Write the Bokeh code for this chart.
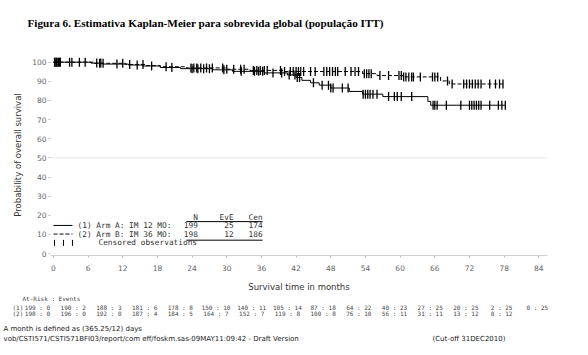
import numpy as np
from bokeh.plotting import figure
from bokeh.layouts import column
from bokeh.models import Label, Span, FixedTicker, Range1d
from bokeh.core.properties import value
from bokeh.embed import file_html
from bokeh.resources import INLINE

# ---------------- data ----------------
title_text = "Figura 6. Estimativa Kaplan-Meier para sobrevida global (população ITT)"
x_label = "Survival time in months"
y_label = "Probability of overall survival"
x_ticks = [0, 6, 12, 18, 24, 30, 36, 42, 48, 54, 60, 66, 72, 78, 84]
y_ticks = [0, 10, 20, 30, 40, 50, 60, 70, 80, 90, 100]

# Arm A (solid): step times and survival (%)
time_a = [0, 6.5, 8.5, 13.0, 15.5, 18.5, 22.0, 27.5, 31.0, 36.5, 40.5, 42.0, 43.0,
          44.5, 46.0, 48.0, 51.2, 53.5, 57.0, 64.8, 65.3]
surv_a = [100, 99.5, 99.0, 98.5, 98.0, 97.2, 96.6, 96.0, 95.2, 94.4, 93.3, 92.0, 90.5,
          89.2, 88.0, 86.5, 84.7, 83.3, 82.0, 79.5, 77.5]
cens_a = [0.2, 0.5, 0.8, 1.1, 2.8, 4.5, 7.5, 8.2, 11.0, 14.5, 17.0, 20.5, 24.0, 25.0,
          26.0, 27.0, 29.5, 32.5, 34.8, 35.5, 36.2, 38.0, 39.5, 40.8, 41.8, 42.2, 42.6,
          45.0, 46.5, 47.6, 48.0, 48.4, 50.0, 51.0, 53.6, 54.0, 54.4, 54.8, 55.3, 56.0,
          58.0, 59.0, 59.5, 60.2, 62.0, 65.7, 66.0, 66.4, 68.0, 70.5, 72.0, 72.4, 72.8,
          73.2, 73.6, 74.0, 75.5, 77.0, 77.6, 78.2]

# Arm B (dashed)
time_b = [0, 7.0, 12.5, 16.0, 18.5, 23.0, 30.0, 34.0, 40.0, 53.5, 56.0, 60.5, 67.0, 68.5]
surv_b = [100, 99.4, 98.8, 98.2, 97.6, 97.0, 96.3, 95.7, 95.1, 94.0, 93.0, 92.3, 90.2, 88.6]
cens_b = [0.3, 0.6, 0.9, 1.2, 3.2, 5.5, 8.0, 8.6, 12.0, 13.2, 15.5, 19.5, 23.8, 24.3,
          24.8, 25.5, 26.5, 27.5, 29.3, 30.0, 31.2, 32.4, 33.0, 34.6, 35.2, 35.8, 36.5,
          37.0, 39.3, 40.0, 41.0, 41.5, 42.0, 42.4, 42.8, 43.3, 44.5, 45.3, 46.8, 47.3,
          47.8, 48.3, 48.8, 49.2, 50.5, 51.5, 52.2, 52.8, 53.8, 54.2, 54.6, 55.0, 56.5,
          58.0, 59.8, 60.2, 60.6, 61.0, 61.5, 62.0, 62.3, 63.5, 65.6, 66.0, 66.5, 68.2,
          69.0, 71.0, 71.5, 72.0, 72.5, 73.0, 73.5, 74.0, 75.5, 76.5, 77.2, 77.8]

arm_names = ["(1) Arm A: IM 12 MO:", "(2) Arm B: IM 36 MO:"]
arm_n = [199, 198]
arm_events = [25, 12]
arm_cens = [174, 186]
legend_header = ["N", "EvE", "Cen"]
censor_text = "Censored observations"

risk_header = "At-Risk : Events"
risk_rows = ["(1)", "(2)"]
risk_a = [199, 190, 188, 181, 178, 150, 140, 105, 87, 64, 40, 27, 20, 2, 0]
events_a = [0, 2, 3, 6, 8, 10, 11, 14, 18, 22, 23, 25, 25, 25, 25]
risk_b = [198, 196, 192, 187, 184, 164, 152, 119, 100, 76, 56, 31, 13, 0]
events_b = [0, 0, 0, 4, 5, 7, 7, 8, 8, 10, 11, 11, 12, 12]

foot1 = "A month is defined as (365.25/12) days"
foot2 = "vob/CSTI571/CSTI571BFI03/report/com  eff/foskm.sas-09MAY11:09:42 - Draft Version"
foot3 = "(Cut-off 31DEC2010)"

W = 588

def no_align(fig):
    if "frame_align" in fig.properties():
        fig.frame_align = False

# ---------------- title strip ----------------
pt = figure(width=W, height=40, x_range=Range1d(0, W), y_range=Range1d(40, 0),
            output_backend="svg", toolbar_location=None, min_border=0,
            x_axis_type=None, y_axis_type=None)
pt.grid.visible = False
pt.outline_line_color = None
no_align(pt)
pt.text(x=[27], y=[22], text=[title_text], text_font=value("Liberation Serif"),
        text_font_style="bold", text_font_size="11.2px", text_color="black",
        text_baseline="middle", text_align="left")

# ---------------- main plot ----------------
p = figure(width=W, height=255, x_range=Range1d(-0.5, 85.5), y_range=Range1d(-1, 104),
           output_backend="svg", toolbar_location=None,
           min_border_left=50, min_border_right=41, min_border_top=14, min_border_bottom=40)
p.grid.visible = False
p.outline_line_color = None
no_align(p)

for ax in (p.xaxis[0], p.yaxis[0]):
    ax.major_label_text_font = "DejaVu Sans"
    ax.major_label_text_font_size = "7.5px"
    ax.major_label_text_color = "#666666"
    ax.major_tick_line_color = "#bbbbbb"
    ax.major_tick_out = 2
    ax.major_tick_in = 0
    ax.minor_tick_line_color = None
    ax.axis_label_text_font = "DejaVu Sans"
    ax.axis_label_text_font_style = "normal"
    ax.axis_label_text_font_size = "8.5px"
    ax.axis_label_text_color = "#333333"

p.xaxis.ticker = FixedTicker(ticks=x_ticks)
p.xaxis.axis_label = x_label
p.xaxis.axis_line_color = "#d0d0d0"
p.xaxis.major_label_standoff = 7
p.xaxis.axis_label_standoff = 8

p.yaxis.ticker = FixedTicker(ticks=y_ticks)
p.yaxis.axis_label = y_label
p.yaxis.axis_line_color = None
p.yaxis.major_label_standoff = 2
p.yaxis.axis_label_standoff = 6

p.add_layout(Span(location=50, dimension="width", line_color="#e6e6e6", line_width=1))

def km_draw(times, surv, cens, dash):
    xs = list(times) + [max(cens)]
    ys = list(surv) + [surv[-1]]
    p.step(xs, ys, mode="after", line_color="black", line_width=1, line_dash=dash)
    idx = np.searchsorted(np.array(times), np.array(cens), side="right") - 1
    cy = np.array(surv)[idx]
    p.scatter(cens, cy, marker="dash", size=9, angle=np.pi / 2,
              line_color="black", line_width=1.3)

km_draw(time_a, surv_a, cens_a, "solid")
km_draw(time_b, surv_b, cens_b, "4 2")

mono = "DejaVu Sans Mono"
def lab(x, y, text, size="7.8px", align="left"):
    p.add_layout(Label(x=x, y=y, text=text, text_font=mono, text_font_size=size,
                       text_align=align, text_baseline="middle", text_color="#333333"))

col_x = [25.0, 31.2, 36.2]
row_y = [14.7, 10.2]
for cx, h in zip(col_x, legend_header):
    lab(cx, 18.6, h, align="right")
for i in range(2):
    lab(4.17, row_y[i], arm_names[i])
    for cx, v in zip(col_x, [arm_n[i], arm_events[i], arm_cens[i]]):
        lab(cx, row_y[i], str(v), align="right")
p.line([0.02, 3.3], [row_y[0], row_y[0]], line_color="black", line_width=1)
p.line([0.02, 3.3], [row_y[1], row_y[1]], line_color="black", line_width=1, line_dash="4 2")
p.segment(x0=[23.0, 23.0], y0=[16.7, 7.0], x1=[36.2, 36.2], y1=[16.7, 7.0],
          line_color="black", line_width=1)
p.scatter([0.19, 1.75, 3.3], [5.6, 5.6, 5.6], marker="dash", size=6, angle=np.pi / 2,
          line_color="black", line_width=1)
lab(7.8, 5.6, censor_text)

# ---------------- at-risk table & footnotes ----------------
pb = figure(width=W, height=60, x_range=Range1d(0, W), y_range=Range1d(60, 0),
            output_backend="svg", toolbar_location=None, min_border=0,
            x_axis_type=None, y_axis_type=None)
pb.grid.visible = False
pb.outline_line_color = None
no_align(pb)

rx = [37 + 35.7 * i for i in range(15)]
fs = "6px"
pb.text(x=[22], y=[3], text=[risk_header], text_font=value(mono), text_font_size=fs,
        text_color="#444444", text_baseline="middle")
pb.text(x=[12, 12], y=[12, 18], text=risk_rows, text_font=value(mono), text_font_size=fs,
        text_color="#444444", text_baseline="middle")
pb.text(x=rx[:len(risk_a)], y=[12] * len(risk_a),
        text=[f"{r} : {e}" for r, e in zip(risk_a, events_a)],
        text_font=value(mono), text_font_size=fs, text_color="#444444",
        text_baseline="middle", text_align="center")
pb.text(x=rx[:len(risk_b)], y=[18] * len(risk_b),
        text=[f"{r} : {e}" for r, e in zip(risk_b, events_b)],
        text_font=value(mono), text_font_size=fs, text_color="#444444",
        text_baseline="middle", text_align="center")
pb.text(x=[3, 3, 432], y=[33, 43, 43], text=[foot1, foot2, foot3],
        text_font=value("DejaVu Sans"), text_font_size="7px", text_color="#222222",
        text_baseline="middle", text_align="left")

layout = column(pt, p, pb, spacing=0)
open("out.html", "w").write(file_html(layout, INLINE))
